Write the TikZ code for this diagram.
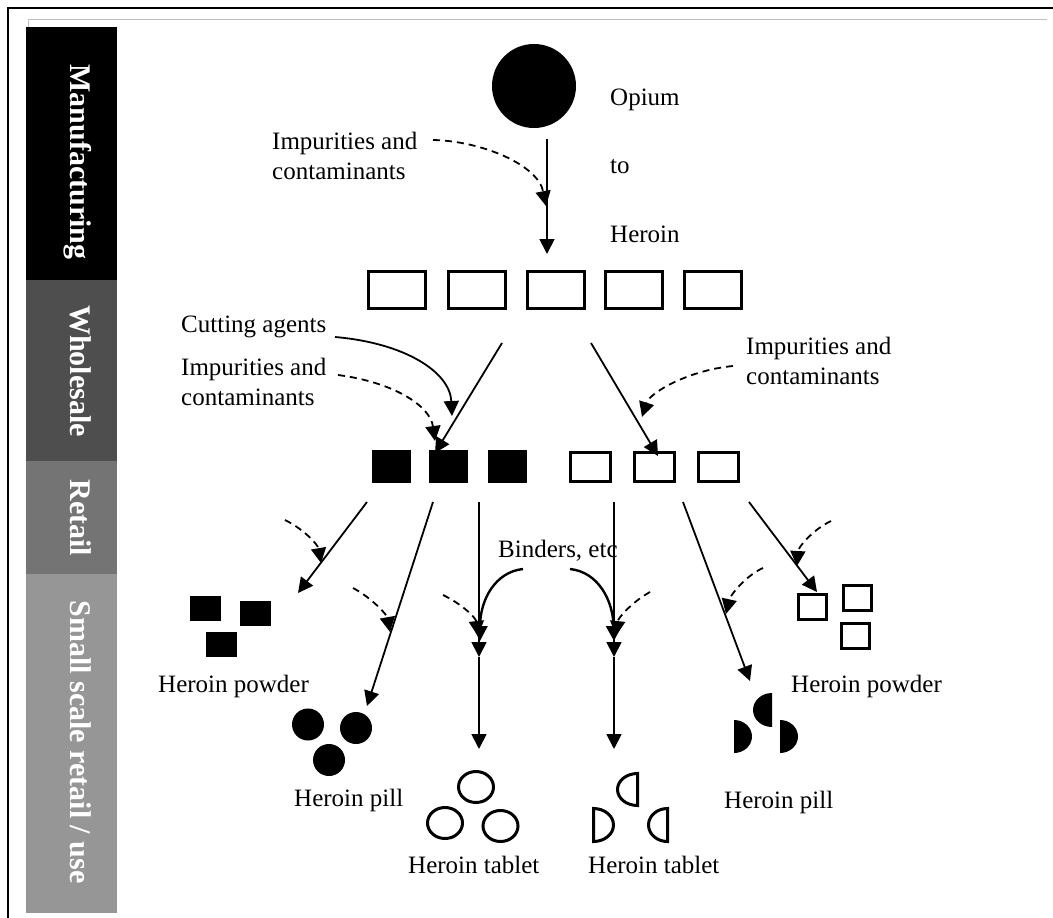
\documentclass[tikz,border=0pt]{standalone}
\usepackage{fontspec}
\setmainfont{Liberation Serif}
\usetikzlibrary{arrows.meta,shapes.geometric}
\definecolor{bandA}{RGB}{0,0,0}
\definecolor{bandB}{RGB}{78,78,78}
\definecolor{bandC}{RGB}{116,116,116}
\definecolor{bandD}{RGB}{150,150,150}
\newcommand{\halfpill}[6]{% X, yc, dir, rx, ry, style
  \path[#6] (#1,{#2-(#5)}) .. controls ({#1+(#3)*0.5523*(#4)},{#2-(#5)}) and ({#1+(#3)*(#4)},{#2-0.5523*(#5)}) .. ({#1+(#3)*(#4)},#2)
    .. controls ({#1+(#3)*(#4)},{#2+0.5523*(#5)}) and ({#1+(#3)*0.5523*(#4)},{#2+(#5)}) .. (#1,{#2+(#5)}) -- cycle;}
\begin{document}
\begin{tikzpicture}[x=1pt,y=-1pt,
  lbl/.style={font=\fontsize{25}{30}\selectfont, inner sep=0pt, align=left},
  band/.style={font=\fontsize{30}{36}\selectfont\bfseries, text=white, rotate=-90, inner sep=0pt, anchor=base},
  tip/.style={-{Triangle[length=15pt,width=15pt]}},
  flow/.style={tip, line width=1.8pt},
  imp/.style={tip, line width=1.8pt, dash pattern=on 7pt off 5pt},
  bind/.style={tip, line width=2.4pt},
  wbox/.style={draw, line width=3pt, fill=white, inner sep=0pt, rectangle},
  bbox/.style={fill=black, inner sep=0pt, rectangle},
  bdot/.style={fill=black, circle, inner sep=0pt, minimum size=32pt},
  wtab/.style={draw, line width=3pt, ellipse, inner sep=0pt, minimum width=35pt, minimum height=31pt},
]
\useasboundingbox (0,0) rectangle (1053,918);
\fill[white] (0,0) rectangle (1053,918);
% frame
\draw[line width=2.5pt] (8,918) -- (8,8) -- (1053,8);
\draw[black!25, line width=1pt] (28,27) -- (28,19) -- (1047,19);
% bands
\fill[bandA] (26,27) rectangle (117,280);
\fill[bandB] (26,280) rectangle (117,461);
\fill[bandC] (26,461) rectangle (117,574);
\fill[bandD] (26,574) rectangle (117,913);
\node[band] (tMan) at (70,162) {Manufacturing};
\node[band] (tWho) at (70,371) {Wholesale};
\node[band] (tRet) at (70,518) {Retail};
\node[band] (tSma) at (70,742) {Small scale retail / use};

% opium
\node[circle, fill=black, inner sep=0pt, minimum size=84pt] (opium) at (534,86) {};
\node[lbl, anchor=base west] (tOpium) at (610,105) {Opium};
\node[lbl, anchor=base west] (tTo) at (610,173) {to};
\node[lbl, anchor=base west] (tHeroin) at (610,242) {Heroin};
\node[lbl, anchor=north west] (tImp1) at (272,132) {Impurities and\\contaminants};

% top row
\foreach \i/\x in {1/397,2/477,3/556,4/634,5/713}
  \node[wbox, minimum width=57pt, minimum height=37pt] (top\i) at (\x,290) {};

% wholesale texts
\node[lbl, anchor=base west] (tCut) at (181,332) {Cutting agents};
\node[lbl, anchor=north west] (tImp2) at (181,358) {Impurities and\\contaminants};
\node[lbl, anchor=north west] (tImp3) at (746,337) {Impurities and\\contaminants};

% second row
\foreach \i/\x in {1/391.5,2/448.5,3/507.5}
  \node[bbox, minimum width=39pt, minimum height=33pt] (blk\i) at (\x,466.5) {};
\foreach \i/\x in {1/590.5,2/654.5,3/718.5}
  \node[wbox, minimum width=40pt, minimum height=29pt] (wht\i) at (\x,467) {};

% small scale shapes
\node[bbox, minimum width=31pt, minimum height=25pt] (bp1) at (205.5,608.5) {};
\node[bbox, minimum width=31pt, minimum height=25pt] (bp2) at (255.5,613.5) {};
\node[bbox, minimum width=31pt, minimum height=25pt] (bp3) at (221.5,644.5) {};
\node[lbl, anchor=base west] (tPow1) at (158,692) {Heroin powder};

\node[bdot] (pl1) at (308,724.5) {};
\node[bdot] (pl2) at (356,728) {};
\node[bdot] (pl3) at (329,760) {};
\node[lbl, anchor=base west] (tPill1) at (294,806) {Heroin pill};

\node[wtab] (tb1) at (476,787) {};
\node[wtab] (tb2) at (445,823) {};
\node[wtab] (tb3) at (500.5,826) {};
\node[lbl, anchor=base west] (tTab1) at (408,873) {Heroin tablet};

\halfpill{637.5}{789.5}{-1}{20}{16}{draw, line width=3pt}
\halfpill{593.5}{825}{1}{20}{16.5}{draw, line width=3pt}
\halfpill{667.5}{825}{-1}{19}{16.5}{draw, line width=3pt}
\node[lbl, anchor=base west] (tTab2) at (588,873) {Heroin tablet};

\halfpill{772}{710}{-1}{19}{17}{fill=black}
\halfpill{734}{736.5}{1}{18}{16.5}{fill=black}
\halfpill{780}{736.5}{1}{18}{16.5}{fill=black}
\node[lbl, anchor=base west] (tPill2) at (724,808) {Heroin pill};

\node[wbox, minimum width=28pt, minimum height=25pt] (wp1) at (812.5,607) {};
\node[wbox, minimum width=28pt, minimum height=25pt] (wp2) at (857.5,598) {};
\node[wbox, minimum width=28pt, minimum height=25pt] (wp3) at (855.5,635.5) {};
\node[lbl, anchor=base west] (tPow2) at (791,692) {Heroin powder};

\node[lbl, anchor=base west] (tBind) at (498,557) {Binders, etc};

% coordinates
\coordinate (oS) at (547,139);  \coordinate (oE) at (547,254);
\coordinate (dA) at (433,140);  \coordinate (dAe) at (546,206);
\coordinate (w1s) at (502,343); \coordinate (w1e) at (435,453);
\coordinate (w2s) at (591,343); \coordinate (w2e) at (658,456);
\coordinate (cS) at (335,337);  \coordinate (cE) at (452,416);
\coordinate (d2s) at (338,375); \coordinate (d2e) at (435,441);
\coordinate (d3s) at (733,366); \coordinate (d3e) at (642,417);
\coordinate (aS) at (367,502);  \coordinate (aE) at (298,593);
\coordinate (bS) at (433,502);  \coordinate (bE) at (367,706);
\coordinate (cS2) at (479,502); \coordinate (cM) at (479,657); \coordinate (cE2) at (479,749);
\coordinate (dS2) at (614,502); \coordinate (dM) at (614,657); \coordinate (dE2) at (614,749);
\coordinate (eS) at (683,502);  \coordinate (eE) at (750,681);
\coordinate (fS) at (749,502);  \coordinate (fE) at (817,592);
\coordinate (rA) at (285,520);  \coordinate (rAe) at (321,563);
\coordinate (rB) at (353,588);  \coordinate (rBe) at (390,632);
\coordinate (rC) at (443,595);  \coordinate (rCe) at (478,636);
\coordinate (rD) at (650,592);  \coordinate (rDe) at (616,636);
\coordinate (rE) at (763,568);  \coordinate (rEe) at (726,614);
\coordinate (rF) at (831,521);  \coordinate (rFe) at (797,566);
\coordinate (bL) at (523,569);  \coordinate (bLe) at (480,641);
\coordinate (bR) at (570,569);  \coordinate (bRe) at (614,641);

% manufacturing arrows
\draw[flow] (oS) -- (oE);
\draw[imp] (dA) .. controls (482,141) and (538,165) .. (dAe);
% wholesale arrows
\draw[flow] (w1s) -- (w1e);
\draw[flow] (w2s) -- (w2e);
\draw[flow] (cS) .. controls (405,343) and (450,372) .. (cE);
\draw[imp] (d2s) .. controls (392,382) and (430,405) .. (d2e);
\draw[imp] (d3s) .. controls (690,370) and (650,392) .. (d3e);
% retail arrows
\draw[flow] (aS) -- (aE);
\draw[flow] (bS) -- (bE);
\draw[flow] (cS2) -- (cM);
\draw[flow] (cM) -- (cE2);
\draw[flow] (dS2) -- (dM);
\draw[flow] (dM) -- (dE2);
\draw[flow] (eS) -- (eE);
\draw[flow] (fS) -- (fE);
\draw[imp] (rA) .. controls (305,530) and (318,545) .. (rAe);
\draw[imp] (rB) .. controls (372,598) and (387,615) .. (rBe);
\draw[imp] (rC) .. controls (462,604) and (476,618) .. (rCe);
\draw[imp] (rD) .. controls (632,602) and (618,618) .. (rDe);
\draw[imp] (rE) .. controls (745,576) and (730,596) .. (rEe);
\draw[imp] (rF) .. controls (812,530) and (798,548) .. (rFe);
\draw[bind] (bL) .. controls (495,572) and (480,600) .. (bLe);
\draw[bind] (bR) .. controls (598,572) and (613,600) .. (bRe);
\end{tikzpicture}
\end{document}
